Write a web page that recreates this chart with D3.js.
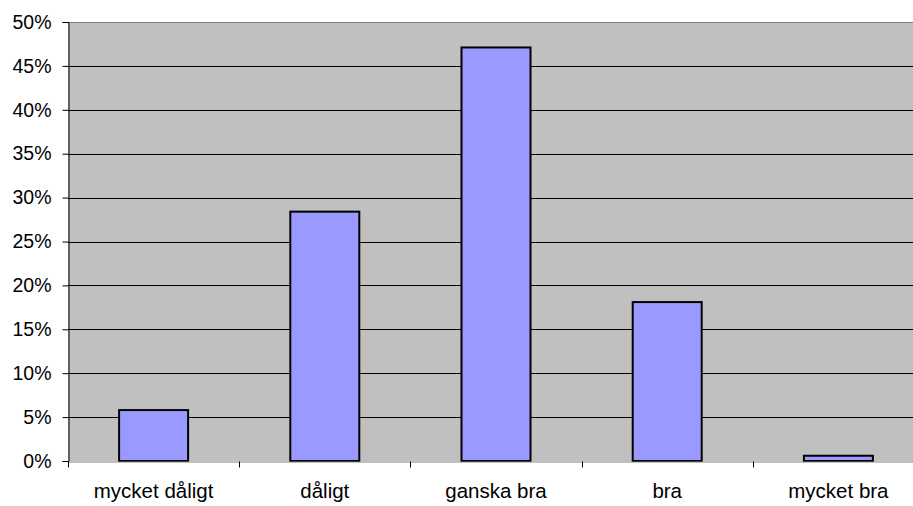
<!DOCTYPE html>
<html><head><meta charset="utf-8">
<script src="https://cdn.jsdelivr.net/npm/d3@7"></script>
<style>body{margin:0;background:#fff;} svg{display:block;} text{font-family:"Liberation Sans",Arial,sans-serif;}</style>
</head><body>
<svg id="c" width="913" height="506"></svg>
<script>
const categories = ["mycket dåligt","dåligt","ganska bra","bra","mycket bra"];
const values = [5.8, 28.4, 47.1, 18.1, 0.6];
const yTicks = [0,5,10,15,20,25,30,35,40,45,50];

const svg = d3.select("#c");
const L = 68, T = 22, R = 924, B = 461;
const x = d3.scaleBand().domain(categories).range([L, R]).paddingInner(0).paddingOuter(0);
const y = d3.scaleLinear().domain([0, 50]).range([B, T]);

svg.append("rect").attr("x", L).attr("y", T).attr("width", R - L).attr("height", B - T)
  .attr("fill", "#c0c0c0");

svg.append("g").selectAll("line").data(yTicks.filter(d => d > 0 && d < 50)).join("line")
  .attr("x1", L).attr("x2", R).attr("y1", d => Math.round(y(d)) + 0.5).attr("y2", d => Math.round(y(d)) + 0.5)
  .attr("stroke", "#000").attr("stroke-width", 1);
svg.append("line").attr("x1", L).attr("x2", R).attr("y1", T + 0.5).attr("y2", T + 0.5)
  .attr("stroke", "#808080").attr("stroke-width", 1);

const bw = 69;
svg.append("g").selectAll("rect").data(values).join("rect")
  .attr("x", (d, i) => x(categories[i]) + x.bandwidth() / 2 - bw / 2)
  .attr("y", d => y(d))
  .attr("width", bw)
  .attr("height", d => B - y(d))
  .attr("fill", "#9999ff").attr("stroke", "#000").attr("stroke-width", 2);

const yAxis = d3.axisLeft(y).tickValues(yTicks).tickSize(6).tickPadding(11).tickFormat(d => d + "%");
const gy = svg.append("g").attr("transform", `translate(${L + 0.5},0)`).call(yAxis);
gy.select(".domain").attr("stroke", "#000");
gy.selectAll(".tick line").attr("stroke", "#000");
gy.selectAll("text").attr("font-size", 19.5).attr("fill", "#000").attr("font-family", "Liberation Sans, Arial, sans-serif");

const xAxis = d3.axisBottom(x).tickSize(0).tickPadding(22).tickSizeOuter(0);
const gx = svg.append("g").attr("transform", `translate(0,${B + 0.5})`).call(xAxis);
gx.select(".domain").attr("stroke", "#808080");
gx.selectAll("text").attr("font-size", 20.5).attr("fill", "#000").attr("font-family", "Liberation Sans, Arial, sans-serif");
const bounds = categories.map(c => x(c)).concat([R]);
gx.append("g").selectAll("line").data(bounds).join("line")
  .attr("x1", d => Math.round(d) + 0.5).attr("x2", d => Math.round(d) + 0.5)
  .attr("y1", 0).attr("y2", 6).attr("stroke", "#000");
</script>
</body></html>
